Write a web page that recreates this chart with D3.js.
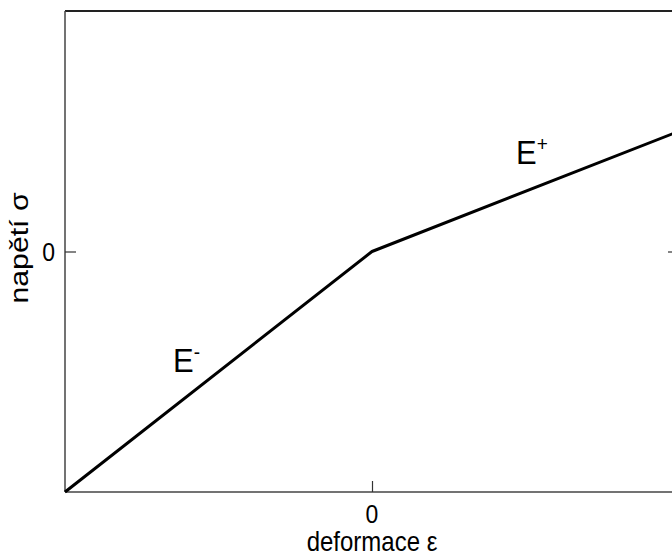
<!DOCTYPE html>
<html>
<head>
<meta charset="utf-8">
<script src="https://cdn.jsdelivr.net/npm/d3@7"></script>
<style>
  body { margin: 0; background: #fff; }
  text { font-family: "Liberation Sans", Arial, sans-serif; fill: #000; }
</style>
</head>
<body>
<svg width="672" height="556"></svg>
<script>
const strain = [-1, 0, 1];
const stress = [-1, 0, 0.5];
const xTicks = [0];
const yTicks = [0];
const moduli = [
  { name: "E", sup: "-", x: -0.648, y: -0.5 },
  { name: "E", sup: "+", x: 0.469, y: 0.364 }
];

const svg = d3.select("svg");
const margin = { left: 65, top: 11, right: 679, bottom: 492 };
const stretch = 1.12; // glyphs in the picture are a bit taller than wide

const x = d3.scaleLinear().domain([-1, 1]).range([margin.left, margin.right]);
const y = d3.scaleLinear().domain([-1, 1]).range([margin.bottom, margin.top]);

// frame
svg.append("line")
  .attr("x1", x(-1)).attr("x2", x(1) + 2)
  .attr("y1", y(1)).attr("y2", y(1))
  .attr("stroke", "#222").attr("stroke-width", 2);
svg.append("line")
  .attr("x1", x(-1)).attr("x2", x(1))
  .attr("y1", y(-1)).attr("y2", y(-1))
  .attr("stroke", "#444").attr("stroke-width", 1.5);
svg.append("line")
  .attr("x1", x(-1)).attr("x2", x(-1))
  .attr("y1", y(1)).attr("y2", y(-1))
  .attr("stroke", "#444").attr("stroke-width", 1.5);
svg.append("line")
  .attr("x1", x(1)).attr("x2", x(1))
  .attr("y1", y(1)).attr("y2", y(-1))
  .attr("stroke", "#444").attr("stroke-width", 1.5);

// ticks (inward)
const xAxis = svg.append("g")
  .attr("transform", `translate(0, ${y(-1)})`)
  .call(d3.axisTop(x).tickValues(xTicks).tickSize(11).tickFormat(""));
const yAxis = svg.append("g")
  .attr("transform", `translate(${x(-1)}, 0)`)
  .call(d3.axisRight(y).tickValues(yTicks).tickSize(11).tickFormat(""));
const yAxisR = svg.append("g")
  .attr("transform", `translate(${x(1)}, 0)`)
  .call(d3.axisLeft(y).tickValues(yTicks).tickSize(11).tickFormat(""));
[xAxis, yAxis, yAxisR].forEach(g => {
  g.select(".domain").remove();
  g.selectAll(".tick line").attr("stroke", "#333").attr("stroke-width", 1.2);
});

// tick labels
svg.selectAll("text.xtick")
  .data(xTicks)
  .join("text")
  .attr("class", "xtick")
  .attr("transform", d => `translate(${x(d)}, ${y(-1) + 31}) scale(1, ${stretch})`)
  .attr("text-anchor", "middle")
  .attr("font-size", 23)
  .text(d => d);

svg.selectAll("text.ytick")
  .data(yTicks)
  .join("text")
  .attr("class", "ytick")
  .attr("transform", d => `translate(${x(-1) - 10}, ${y(d) + 9}) scale(1, ${stretch})`)
  .attr("text-anchor", "end")
  .attr("font-size", 23)
  .text(d => d);

// axis titles
svg.append("text")
  .attr("transform", `translate(${x(0)}, 551) scale(1, ${stretch})`)
  .attr("text-anchor", "middle")
  .attr("font-size", 24)
  .text("deformace ε");

svg.append("text")
  .attr("transform", `translate(28, 248) rotate(-90) scale(${stretch * 1.08}, 1)`)
  .attr("text-anchor", "middle")
  .attr("font-size", 25)
  .text("napětí σ");

// curve
const line = d3.line()
  .x(d => x(d[0]))
  .y(d => y(d[1]));

svg.append("path")
  .datum(strain.map((s, i) => [s, stress[i]]))
  .attr("d", line)
  .attr("fill", "none")
  .attr("stroke", "#000")
  .attr("stroke-width", 3)
  .attr("stroke-linejoin", "round");

// modulus labels
moduli.forEach(m => {
  const t = svg.append("text")
    .attr("transform", `translate(${x(m.x)}, ${y(m.y)}) scale(1, 1.1)`)
    .attr("font-size", 31);
  t.append("tspan").text(m.name);
  t.append("tspan")
    .attr("font-size", 19)
    .attr("dy", -12)
    .text(m.sup);
});
</script>
</body>
</html>
